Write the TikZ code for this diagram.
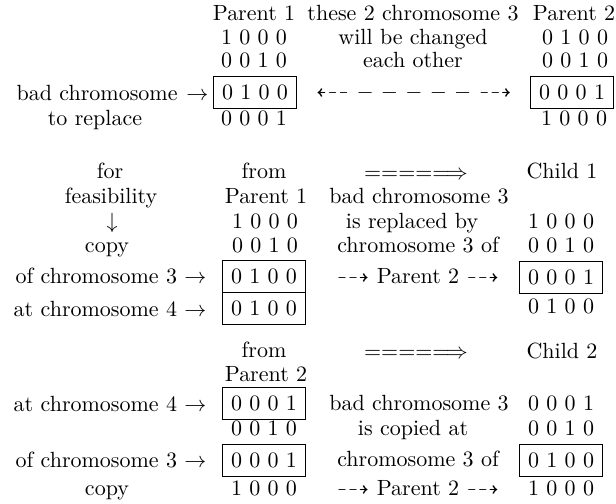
\documentclass[tikz,border=0pt]{standalone}
\usepackage{amssymb}
\usetikzlibrary{positioning}

\begin{document}
\begin{tikzpicture}[x=0.4545pt,y=-0.4545pt]
  \tikzset{rowtext/.style={anchor=base, inner sep=0pt},
    genebox/.style={draw, inner sep=3.8pt}}
  \useasboundingbox (0,0) rectangle (616,503);
  % the two parents
  \node[rowtext] (p1head) at (254,20) {Parent 1};
  \node[rowtext] (p1r1) at (254,44) {1 0 0 0};
  \node[rowtext] (p1r2) at (254,67) {0 0 1 0};
  \node[genebox] (p1bad) at (255,92.5) {0 1 0 0};
  \node[rowtext] (p1r4) at (254,125) {0 0 0 1};
  \node[rowtext, left=2pt of p1bad] (badlbl) {bad chromosome\hspace{0.4em}$\rightarrow$};
  \node[rowtext] (replacelbl) at (95,125) {to replace};
  \node[rowtext] (swaphead) at (413,20) {these 2 chromosome 3};
  \node[rowtext] (swap1) at (413,44) {will be changed};
  \node[rowtext] (swap2) at (413,67) {each other};
  \node[rowtext] (swaparrow) at (414,98) {$\dashleftarrow$ $-$ $-$ $-$ $-$ $-$ $\dashrightarrow$};
  \node[rowtext] (p2head) at (574,20) {Parent 2};
  \node[rowtext] (p2r1) at (575,44) {0 1 0 0};
  \node[rowtext] (p2r2) at (575,67) {0 0 1 0};
  \node[genebox] (p2bad) at (572,92.5) {0 0 0 1};
  \node[rowtext] (p2r4) at (574,125) {1 0 0 0};
  % child 1
  \node[rowtext] (forlbl) at (110,178) {for};
  \node[rowtext] (feaslbl) at (111,203) {feasibility};
  \node[rowtext] (downlbl) at (112,228) {$\downarrow$};
  \node[rowtext] (copylbl) at (107,252) {copy};
  \node[rowtext] (fromA) at (264,178) {from};
  \node[rowtext] (fromAp) at (266,203) {Parent 1};
  \node[rowtext] (c1r1) at (265,228) {1 0 0 0};
  \node[rowtext] (c1r2) at (265,252) {0 0 1 0};
  \node[genebox] (c1src) at (264,276) {0 1 0 0};
  \node[genebox, below=0pt of c1src] (c1dup) {0 1 0 0};
  \node[rowtext, left=7pt of c1src] (c1srclbl) {of chromosome 3 $\rightarrow$};
  \node[rowtext, left=7pt of c1dup] (c1duplbl) {at chromosome 4 $\rightarrow$};
  \node[rowtext] (step1) at (416,179) {$====\Longrightarrow$};
  \node[rowtext] (rep1) at (419,203) {bad chromosome 3};
  \node[rowtext] (rep2) at (412,228) {is replaced by};
  \node[rowtext] (rep3) at (418,252) {chromosome 3 of};
  \node[rowtext] (rep4) at (418,283) {$\dashrightarrow$ Parent 2 $\dashrightarrow$};
  \node[rowtext] (ch1head) at (562,178) {Child 1};
  \node[rowtext] (ch1r1) at (561,228) {1 0 0 0};
  \node[rowtext] (ch1r2) at (561,252) {0 0 1 0};
  \node[genebox] (ch1new) at (561,277) {0 0 0 1};
  \node[rowtext] (ch1r4) at (561,313) {0 1 0 0};
  % child 2
  \node[rowtext] (fromB) at (264,357) {from};
  \node[rowtext] (fromBp) at (266,381) {Parent 2};
  \node[genebox] (c2dup) at (264,403.5) {0 0 0 1};
  \node[rowtext] (c2r2) at (264,435) {0 0 1 0};
  \node[genebox] (c2src) at (264,460) {0 0 0 1};
  \node[rowtext] (c2r4) at (264,495) {1 0 0 0};
  \node[rowtext, left=7pt of c2dup] (c2duplbl) {at chromosome 4 $\rightarrow$};
  \node[rowtext, left=7pt of c2src] (c2srclbl) {of chromosome 3 $\rightarrow$};
  \node[rowtext] (copylbl2) at (107,495) {copy};
  \node[rowtext] (step2) at (416,358) {$====\Longrightarrow$};
  \node[rowtext] (cp1) at (419,410) {bad chromosome 3};
  \node[rowtext] (cp2) at (413,435) {is copied at};
  \node[rowtext] (cp3) at (418,466) {chromosome 3 of};
  \node[rowtext] (cp4) at (418,495) {$\dashrightarrow$ Parent 2 $\dashrightarrow$};
  \node[rowtext] (ch2head) at (562,358) {Child 2};
  \node[rowtext] (ch2r1) at (561,410) {0 0 0 1};
  \node[rowtext] (ch2r2) at (561,435) {0 0 1 0};
  \node[genebox] (ch2new) at (561,460) {0 1 0 0};
  \node[rowtext] (ch2r4) at (561,495) {1 0 0 0};
\end{tikzpicture}
\end{document}
